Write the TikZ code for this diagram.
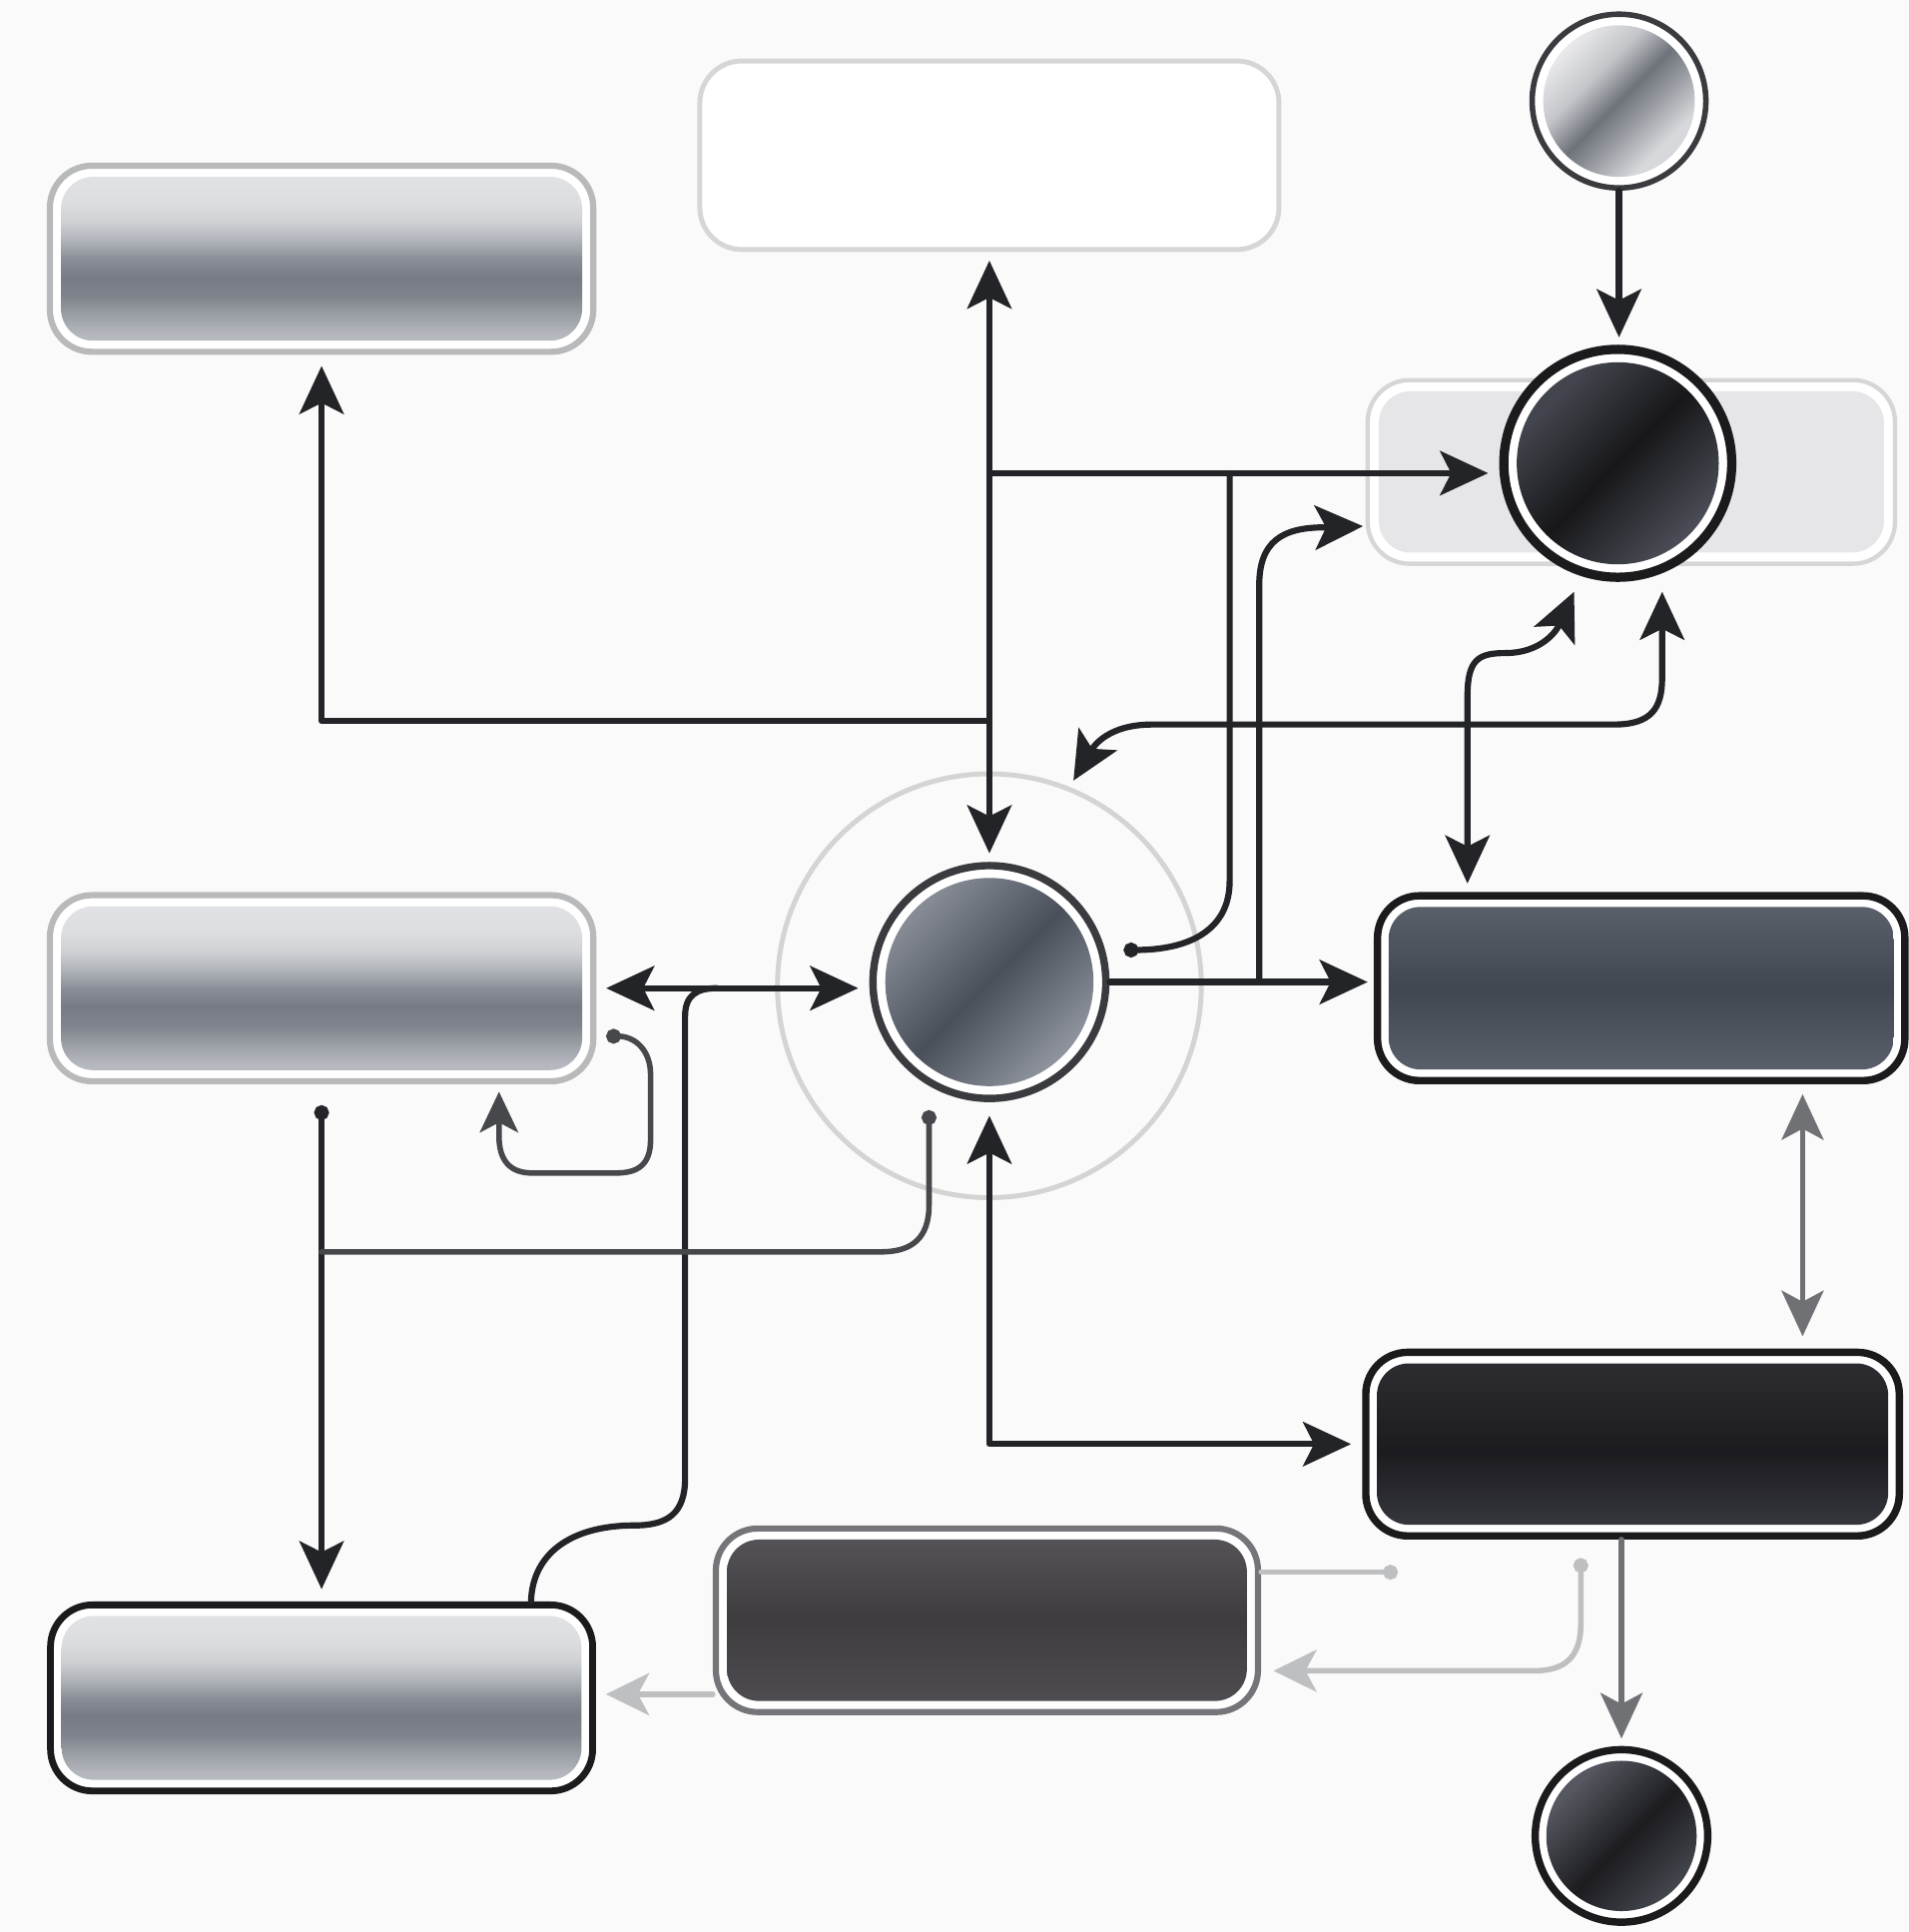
\documentclass[tikz,border=0pt]{standalone}
\usepackage{xcolor}
\usetikzlibrary{arrows.meta,calc}

\newcommand{\pagewidth}{1549}
\newcommand{\pageheight}{1568}
\newcommand{\ringgap}{0.9mm}

\definecolor{pagebg}{HTML}{FAFAFA}
\definecolor{wirecolor}{HTML}{232427}
\definecolor{wiresoft}{HTML}{47484C}
\definecolor{wiregray}{HTML}{707175}
\definecolor{wirepale}{HTML}{BEBFC1}
\definecolor{rimlight}{HTML}{B8B9BB}
\definecolor{rimpale}{HTML}{D6D6D7}
\definecolor{rimmid}{HTML}{747578}
\definecolor{rimdark}{HTML}{1B1B1D}
\definecolor{rimslate}{HTML}{3A3B3F}
\definecolor{rimhalo}{HTML}{D4D4D5}
% silver bar
\definecolor{silvA}{HTML}{E3E4E6}
\definecolor{silvB}{HTML}{DCDDE0}
\definecolor{silvC}{HTML}{CFD1D4}
\definecolor{silvD}{HTML}{B0B4BA}
\definecolor{silvE}{HTML}{8A8F97}
\definecolor{silvF}{HTML}{767B84}
\definecolor{silvG}{HTML}{7F848C}
\definecolor{silvH}{HTML}{9A9EA5}
\definecolor{silvI}{HTML}{B3B6BC}
\definecolor{silvJ}{HTML}{BCBFC4}
% dark bars
\definecolor{slateA}{HTML}{5D636D}
\definecolor{slateB}{HTML}{414751}
\definecolor{slateC}{HTML}{5A606A}
\definecolor{inkA}{HTML}{2E2E33}
\definecolor{inkB}{HTML}{1C1B20}
\definecolor{inkC}{HTML}{35373D}
\definecolor{umberA}{HTML}{58555A}
\definecolor{umberB}{HTML}{3F3C40}
\definecolor{umberC}{HTML}{4E4C50}
\definecolor{paleA}{HTML}{E6E6E8}
% orbs
\definecolor{chromeA}{HTML}{EAEAEC}
\definecolor{chromeB}{HTML}{C3C5C9}
\definecolor{chromeC}{HTML}{6E727A}
\definecolor{chromeD}{HTML}{9A9DA3}
\definecolor{chromeE}{HTML}{D7D8DB}
\definecolor{nightA}{HTML}{42454D}
\definecolor{nightB}{HTML}{17171A}
\definecolor{nightC}{HTML}{4B4E57}
\definecolor{steelA}{HTML}{868B94}
\definecolor{steelB}{HTML}{49505A}
\definecolor{steelC}{HTML}{8E939C}
\definecolor{coalA}{HTML}{555860}
\definecolor{coalB}{HTML}{1C1C20}
\definecolor{coalC}{HTML}{4A4D55}

\pgfdeclareverticalshading{silver}{100bp}{color(0bp)=(silvJ); color(25bp)=(silvJ); color(30bp)=(silvI); color(35bp)=(silvH); color(40bp)=(silvG); color(45bp)=(silvF); color(50bp)=(silvE); color(55bp)=(silvD); color(60bp)=(silvC); color(65bp)=(silvB); color(75bp)=(silvA); color(100bp)=(silvA)}
\pgfdeclareverticalshading{slate}{100bp}{color(0bp)=(slateC); color(28bp)=(slateC); color(50bp)=(slateB); color(75bp)=(slateA); color(100bp)=(slateA)}
\pgfdeclareverticalshading{ink}{100bp}{color(0bp)=(inkC); color(28bp)=(inkC); color(48bp)=(inkB); color(75bp)=(inkA); color(100bp)=(inkA)}
\pgfdeclareverticalshading{umber}{100bp}{color(0bp)=(umberC); color(28bp)=(umberC); color(50bp)=(umberB); color(75bp)=(umberA); color(100bp)=(umberA)}
\pgfdeclareverticalshading{pale}{100bp}{color(0bp)=(paleA); color(100bp)=(paleA)}
\pgfdeclareverticalshading{blank}{100bp}{color(0bp)=(white); color(100bp)=(white)}
\pgfdeclarehorizontalshading{chrome}{100bp}{color(0bp)=(chromeA); color(28bp)=(chromeA); color(40bp)=(chromeB); color(50bp)=(chromeC); color(58bp)=(chromeD); color(68bp)=(chromeE); color(100bp)=(chromeE)}
\pgfdeclarehorizontalshading{night}{100bp}{color(0bp)=(nightA); color(30bp)=(nightA); color(50bp)=(nightB); color(72bp)=(nightC); color(100bp)=(nightC)}
\pgfdeclarehorizontalshading{steel}{100bp}{color(0bp)=(steelA); color(28bp)=(steelA); color(50bp)=(steelB); color(72bp)=(steelC); color(100bp)=(steelC)}
\pgfdeclarehorizontalshading{coal}{100bp}{color(0bp)=(coalA); color(30bp)=(coalA); color(52bp)=(coalB); color(75bp)=(coalC); color(100bp)=(coalC)}

\tikzset{
  ringgap/.code={\renewcommand{\ringgap}{#1}},
  panel/.style 2 args={rectangle, rounded corners=3.4mm, draw=#1, line width=0.5mm,
    fill=white, inner sep=0pt,
    path picture={\shade[shading=#2, rounded corners=2.6mm]
      ([shift={(\ringgap,-\ringgap)}]path picture bounding box.north west) rectangle
      ([shift={(-\ringgap,\ringgap)}]path picture bounding box.south east);}},
  orb/.style 2 args={circle, draw=#1, line width=0.55mm, fill=white, inner sep=0pt,
    path picture={\shade[shading=#2, shading angle=-45]
      let \p1=(path picture bounding box.east), \p2=(path picture bounding box.center) in
      (\p2) circle[radius=\x1-\x2-\ringgap];}},
  knob/.tip={Circle[length=1.2mm]},
  >={Stealth[length=3.9mm, width=3.6mm, inset=0.9mm]},
  wire/.style={draw=wirecolor, line width=0.5mm, line cap=round, line join=round},
  softwire/.style={wire, draw=wiresoft, line width=0.45mm, >={Stealth[length=3.3mm, width=3.1mm, inset=0.8mm]}},
  greywire/.style={wire, draw=wiregray, line width=0.45mm, >={Stealth[length=3.7mm, width=3.4mm, inset=0.9mm]}},
  palewire/.style={wire, draw=wirepale, line width=0.45mm, >={Stealth[length=3.5mm, width=3.4mm, inset=0.9mm]}},
}

\begin{document}
\begin{tikzpicture}[x=0.1mm, y=-0.1mm]
  \fill[pagebg] (0,0) rectangle (\pagewidth, \pageheight);
  \useasboundingbox (0,0) rectangle (\pagewidth, \pageheight);

  % === BARS ===
  \node[panel={rimlight}{silver}, minimum width=44.1mm, minimum height=15.1mm] (topleft) at (261,210) {};
  \node[panel={rimpale}{blank}, line width=0.4mm, minimum width=47.0mm, minimum height=15.3mm] (topframe) at (803,126) {};
  \node[panel={rimpale}{pale}, line width=0.35mm, minimum width=42.8mm, minimum height=14.9mm] (tray) at (1324,383) {};
  \node[panel={rimlight}{silver}, minimum width=44.1mm, minimum height=15.1mm] (midleft) at (261,802) {};
  \node[panel={rimdark}{slate}, line width=0.6mm, minimum width=42.8mm, minimum height=15.0mm] (midright) at (1332,802) {};
  \node[panel={rimdark}{ink}, line width=0.6mm, minimum width=43.3mm, minimum height=14.9mm] (lowright) at (1325,1172) {};
  \node[panel={rimmid}{umber}, minimum width=44.0mm, minimum height=14.9mm] (lowmid) at (801,1315) {};
  \node[panel={rimdark}{silver}, line width=0.55mm, minimum width=44.0mm, minimum height=15.1mm] (lowleft) at (261,1378) {};

  % === ORBS ===
  \node[circle, draw=rimhalo, line width=0.4mm, minimum size=34.4mm, inner sep=0pt] (halo) at (803,800) {};
  \node[orb={rimslate}{chrome}, line width=0.45mm, minimum size=14.1mm] (srcorb) at (1314,82) {};
  \node[orb={rimdark}{night}, line width=0.75mm, ringgap=1.05mm, minimum size=18.5mm] (sinkorb) at (1313,376) {};
  \node[orb={rimslate}{steel}, line width=0.6mm, ringgap=1mm, minimum size=18.9mm] (huborb) at (803,797) {};
  \node[orb={rimdark}{coal}, line width=0.6mm, minimum size=14.0mm] (endorb) at (1316,1490) {};

  % === CONNECTORS ===
  \coordinate (jtop) at (topframe.south |- 0,384);
  \coordinate (jleft) at (topframe.south |- 0,585);
  \coordinate (jright) at (huborb.east -| 1022,0);
  \coordinate (jbus) at (midleft.east -| 582,0);
  \coordinate (jlow) at (midleft.south |- 0,1016);
  \coordinate (nbar) at ($(midright.south)+(131,0)$);
  \path ([yshift=-6mm]lowmid.west) coordinate (rbar);

  \draw[wire, ->, shorten >=0.6mm] (srcorb.south) -- (srcorb.south |- sinkorb.north);
  \draw[wire, <->, shorten <=0.7mm, shorten >=0.7mm] (topframe.south) -- (huborb.north);
  \draw[wire, ->, shorten >=0.9mm] (jtop) -- (jtop -| sinkorb.west);
  \draw[wire, ->, shorten >=0.9mm] (jleft) -| (topleft.south);
  \draw[wire, knob-] ($(huborb)+(109,-26)$) .. controls (965,771) and (998,755) .. (998,715) -- (998,0 |- jtop);
  \draw[wire, ->, shorten >=0.5mm] (huborb.east) -- (huborb.east -| midright.west);
  \draw[wire, ->, shorten >=0.2mm] (jright) -- (1022,475) .. controls (1022,440) and (1040,428) .. (1075,428) -- ([yshift=-4.4mm]tray.west);
  \draw[wire, <->, shorten <=0.6mm, shorten >=1.5mm] (halo.68) .. controls (888,605) and (900,588) .. (935,588)
    -- (1310,588) .. controls (1340,588) and (1349,575) .. (1349,550) -- (sinkorb.-68);
  \draw[wire, <->, shorten <=0.7mm, shorten >=1.4mm] ([xshift=-14.1mm]midright.north) -- (1191,565)
    .. controls (1191,535) and (1200,530) .. (1222,530) .. controls (1248,530) and (1262,515) .. (sinkorb.-108);
  \draw[wire, <->, shorten <=0.8mm, shorten >=0.9mm] (midleft.east) -- (midleft.east -| huborb.west);
  \draw[wire] (jbus) .. controls (565,802) and (556,808) .. (556,825) -- (556,1200)
    .. controls (556,1228) and (542,1238) .. (515,1238) .. controls (462,1238) and (432,1262) .. ([xshift=17mm]lowleft.north);
  \draw[softwire, knob->, shorten >=0.6mm] ($(midleft.east)+(8,39)$) .. controls (515,841) and (528,852) .. (528,872)
    -- (528,925) .. controls (528,945) and (518,952) .. (500,952) -- (432,952)
    .. controls (414,952) and (405,942) .. (405,922) -- ([xshift=14.4mm]midleft.south);
  \draw[wire, knob->, line width=0.45mm, shorten >=1mm] ($(midleft.south)+(0,17)$) -- (lowleft.north);
  \draw[softwire, knob-] ($(huborb)+(-49,104)$) -- (754,978) .. controls (754,1005) and (740,1016) .. (715,1016) -- (jlow);
  \draw[wire, <->, shorten <=1.1mm, shorten >=0.9mm] (huborb.south) |- (lowright.west);
  \draw[greywire, <->, shorten <=0.8mm, shorten >=1mm] (nbar) -- (nbar |- lowright.north);
  \draw[greywire, ->, shorten >=0.6mm] (endorb |- lowright.south) -- (endorb.north);
  \draw[palewire, -knob] ([yshift=3.9mm]lowmid.east) -- ++(111,0);
  \draw[palewire, knob->, shorten >=1mm] ($(lowright.south)+(-42,15)$) -- (1283,1318)
    .. controls (1283,1345) and (1270,1356) .. (1245,1356) -- ([yshift=-4.1mm]lowmid.east);
  \draw[palewire, ->, shorten >=0.8mm] (rbar) -- (rbar -| lowleft.east);
\end{tikzpicture}
\end{document}
